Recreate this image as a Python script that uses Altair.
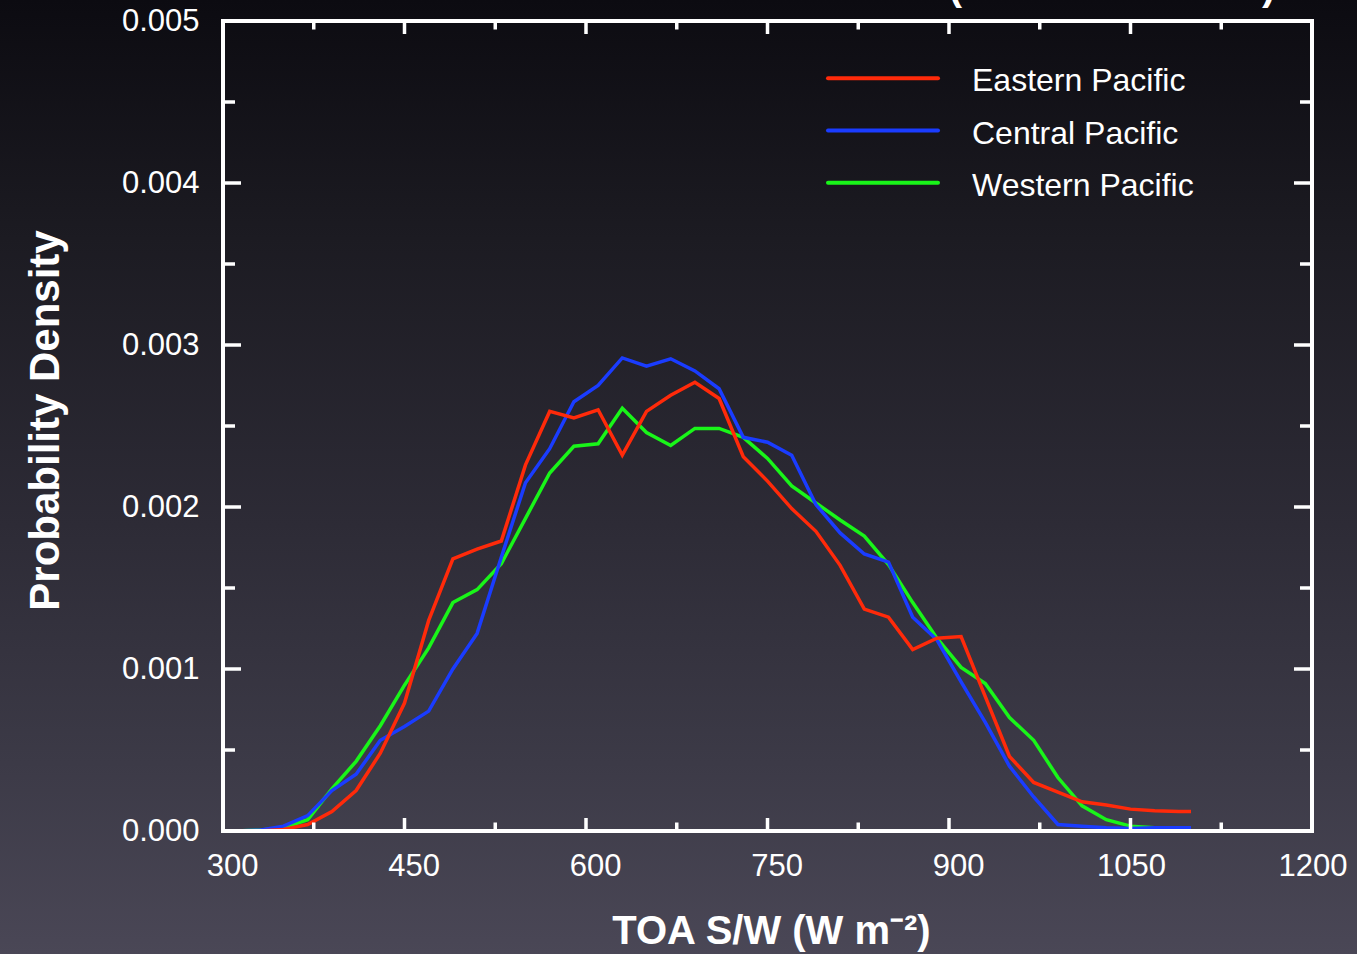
import altair as alt
import pandas as pd

# ---------------- data ----------------
x_vals = [300, 310, 330, 350, 370, 390, 410, 430, 450, 470, 490, 510, 530, 550,
          570, 590, 610, 630, 650, 670, 690, 710, 730, 750, 770, 790, 810, 830,
          850, 870, 890, 910, 930, 950, 970, 990, 1010, 1030, 1050, 1070, 1090, 1100]

# probability density, in units of 1e-3
eastern = [0.0, 0.0, 0.0, 0.01, 0.04, 0.12, 0.25, 0.48, 0.79, 1.30, 1.68, 1.74, 1.79, 2.26,
           2.59, 2.55, 2.60, 2.32, 2.59, 2.69, 2.77, 2.67, 2.31, 2.16, 1.99, 1.85, 1.64, 1.37,
           1.32, 1.12, 1.19, 1.20, 0.83, 0.46, 0.30, 0.24, 0.18, 0.16, 0.135, 0.125, 0.12, 0.12]
central = [0.0, 0.0, 0.005, 0.03, 0.095, 0.25, 0.35, 0.56, 0.645, 0.74, 1.00, 1.22, 1.69, 2.15,
           2.36, 2.65, 2.75, 2.92, 2.87, 2.915, 2.84, 2.73, 2.43, 2.40, 2.32, 2.015, 1.84, 1.71,
           1.66, 1.32, 1.18, 0.92, 0.67, 0.40, 0.21, 0.04, 0.03, 0.02, 0.015, 0.02, 0.02, 0.02]
western = [0.0, 0.0, 0.005, 0.02, 0.07, 0.26, 0.43, 0.65, 0.90, 1.13, 1.41, 1.49, 1.65, 1.93,
           2.21, 2.375, 2.39, 2.61, 2.46, 2.38, 2.485, 2.485, 2.43, 2.30, 2.13, 2.025, 1.92, 1.82,
           1.645, 1.41, 1.19, 1.01, 0.91, 0.70, 0.56, 0.33, 0.155, 0.07, 0.03, 0.02, 0.02, 0.02]

names = ["Eastern Pacific", "Central Pacific", "Western Pacific"]
colors = ["#ff2a0a", "#1a3cff", "#19f519"]
series_values = [eastern, central, western]

x_tick_vals = list(range(300, 1201, 75))
x_major = [(v - 300) % 150 == 0 for v in x_tick_vals]
y_tick_vals = [round(i * 0.0005, 4) for i in range(11)]
y_major = [i % 2 == 0 for i in range(11)]
x_label_vals = [300, 450, 600, 750, 900, 1050, 1200]
y_label_vals = [0.0, 0.001, 0.002, 0.003, 0.004, 0.005]

x_title = "TOA S/W (W m\u207b\u00b2)"
y_title = "Probability Density"
top_title_fragment = "(" + "\u00a0" * 27 + ")"

# ---------------- layout ----------------
W, H = 1089, 810
PAD = {"left": 223, "top": 21, "right": 45, "bottom": 123}
FONT = "Liberation Sans"

xscale = alt.Scale(domain=[300, 1200], nice=False, zero=False)
yscale = alt.Scale(domain=[0, 0.005], nice=False, zero=True)

xaxis = alt.Axis(values=x_label_vals, format="d", labelFont=FONT, labelFontSize=31,
                 labelColor="white", labelAlign="right", labelOffset=35, labelBaseline="top",
                 labelPadding=20, labelFlush=False, labelOverlap=False, labelBound=False,
                 domain=False, ticks=False, tickSize=0, grid=False,
                 title=x_title, titleFont=FONT, titleFontSize=40, titleFontWeight="bold",
                 titleColor="white", titleX=548, titleY=112, titleAlign="center",
                 titleBaseline="alphabetic", zindex=2)
yaxis = alt.Axis(values=y_label_vals, format=".3f", labelFont=FONT, labelFontSize=31,
                 labelColor="white", labelAlign="right", labelBaseline="middle",
                 labelPadding=24, labelFlush=False, labelOverlap=False, labelBound=False,
                 domain=False, ticks=False, tickSize=0, grid=False,
                 title=y_title, titleFont=FONT, titleFontSize=42, titleFontWeight="bold",
                 titleColor="white", titleX=-178, titleY=399, titleAlign="center",
                 titleBaseline="middle", zindex=2)

X = alt.X("x:Q", scale=xscale, axis=xaxis)
Y = alt.Y("y:Q", scale=yscale, axis=yaxis)

# ---------------- layers ----------------
one = pd.DataFrame({"k": [0]})

bg = alt.Chart(one).mark_rect(
    fill=alt.LinearGradient(
        gradient="linear",
        stops=[alt.GradientStop(color="#0c0b11", offset=0),
               alt.GradientStop(color="#1c1b22", offset=0.25),
               alt.GradientStop(color="#2d2b36", offset=0.55),
               alt.GradientStop(color="#3c3a47", offset=0.8),
               alt.GradientStop(color="#4a4756", offset=1)],
        x1=0, x2=0, y1=0, y2=1)
).encode(x=alt.value(-PAD["left"]), x2=alt.value(W + PAD["right"]),
         y=alt.value(-PAD["top"]), y2=alt.value(H + PAD["bottom"]))

line_layers = []
for idx in [2, 1, 0]:  # green, blue, red drawn in this order
    df = pd.DataFrame({"x": x_vals, "y": [v * 1e-3 for v in series_values[idx]],
                       "series": names[idx]})
    line_layers.append(
        alt.Chart(df).mark_line(strokeWidth=3.5, color=colors[idx]).encode(
            x=X, y=Y, order="x:Q")
    )

xt = pd.DataFrame({"x": x_tick_vals, "major": x_major})
yt = pd.DataFrame({"y": y_tick_vals, "major": y_major})

tick_layers = []
for major, xl, yl in [(True, 13, 18), (False, 8.5, 12)]:
    cond = "datum.major" if major else "!datum.major"
    tick_layers += [
        alt.Chart(xt).transform_filter(cond).mark_rule(color="white", strokeWidth=3.5)
        .encode(x=X, y=alt.value(H), y2=alt.value(H - xl)),
        alt.Chart(xt).transform_filter(cond).mark_rule(color="white", strokeWidth=3.5)
        .encode(x=X, y=alt.value(0), y2=alt.value(xl)),
        alt.Chart(yt).transform_filter(cond).mark_rule(color="white", strokeWidth=3.5)
        .encode(y=Y, x=alt.value(0), x2=alt.value(yl)),
        alt.Chart(yt).transform_filter(cond).mark_rule(color="white", strokeWidth=3.5)
        .encode(y=Y, x=alt.value(W), x2=alt.value(W - yl)),
    ]

frame = alt.Chart(one).mark_rect(filled=False, stroke="white", strokeWidth=4).encode(
    x=alt.value(0), x2=alt.value(W), y=alt.value(0), y2=alt.value(H))

top_frag = alt.Chart(pd.DataFrame({"t": [top_title_fragment]})).mark_text(
    font=FONT, fontSize=40, fontWeight="bold", color="white", align="center",
    baseline="alphabetic").encode(x=alt.value(889), y=alt.value(-21), text="t:N")

main = alt.layer(bg, *line_layers, *tick_layers, frame, top_frag)

# manual legend (own y scale)
leg_df = pd.DataFrame({"series": names, "color": colors, "row": [0, 1, 2]})
leg_y = alt.Y("row:O", scale=alt.Scale(type="point", domain=[0, 1, 2], range=[57.3, 161.7],
                                       padding=0), axis=None)
leg_lines = alt.Chart(leg_df).mark_rule(strokeWidth=4, strokeCap="round").encode(
    x=alt.value(605), x2=alt.value(715), y=leg_y,
    color=alt.Color("color:N", scale=None, legend=None))
leg_text = alt.Chart(leg_df).mark_text(
    font=FONT, fontSize=32, color="white", align="left", baseline="middle", dy=3).encode(
    x=alt.value(749), y=leg_y, text="series:N")

chart = alt.layer(main, leg_lines, leg_text).resolve_scale(y="independent").properties(
    width=W, height=H,
    autosize=alt.AutoSizeParams(type="none"),
    padding=PAD,
    background="#25232c",
).configure_view(stroke="transparent")

chart.save("out.html", embed_options={"renderer": "svg", "actions": False})
